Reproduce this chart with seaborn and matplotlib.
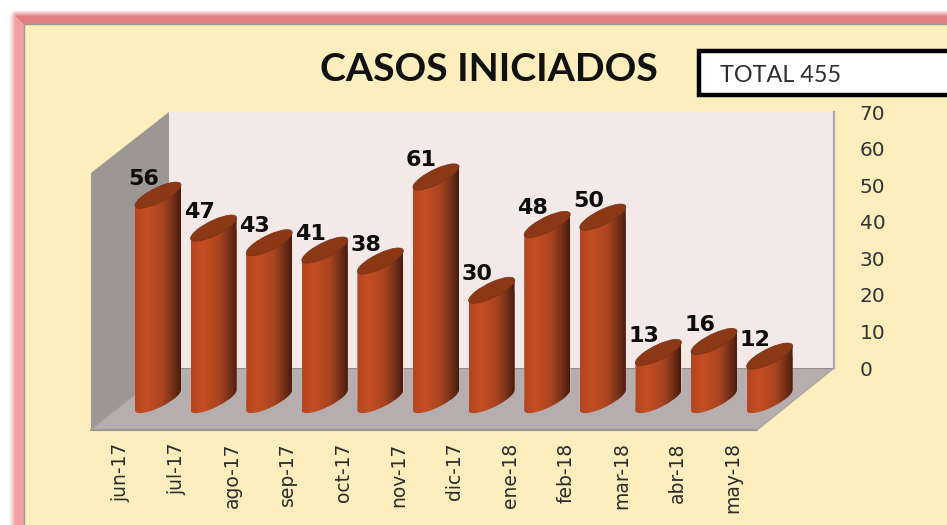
import numpy as np
import pandas as pd
import seaborn as sns
import matplotlib
matplotlib.use("Agg")
import matplotlib.pyplot as plt
from matplotlib.patches import Polygon, Ellipse, Rectangle
from matplotlib.path import Path
from matplotlib.transforms import Affine2D, IdentityTransform, ScaledTranslation
from matplotlib.colors import LinearSegmentedColormap, to_rgb

months = ["jun-17", "jul-17", "ago-17", "sep-17", "oct-17", "nov-17",
          "dic-17", "ene-18", "feb-18", "mar-18", "abr-18", "may-18"]
casos = [56, 47, 43, 41, 38, 61, 30, 48, 50, 13, 16, 12]
wall_ticks = [0, 10, 20, 30, 40, 50, 60, 70]
title_text = "CASOS INICIADOS"
total_text = "TOTAL 455"

W, H = 947, 525
sns.set_theme(style="white")
plt.rcParams["font.family"] = ["DejaVu Sans"]
fig = plt.figure(figsize=(W / 100, H / 100), dpi=100, facecolor="white")


def rect(x0, y_top, x1, y_bot):
    return [x0 / W, 1 - y_bot / H, (x1 - x0) / W, (y_bot - y_top) / H]


# ---- frame, panel and 3D room, in a full-figure pixel axes
bg = fig.add_axes([0, 0, 1, 1], zorder=0)
bg.set_xlim(0, W)
bg.set_ylim(H, 0)
bg.axis("off")

# soft pink glow around the panel
yy, xx = np.mgrid[0:H, 0:W] + 0.5
left_col = np.array(to_rgb("#f1a1a6"))
top_col = np.array(to_rgb("#e27f82"))
white = np.ones(3)
ex, ey = 9.0, 10.0   # outer edges of the glow
corner = 8.0
dx = np.clip(ex + corner - xx, 0, None)
dy = np.clip(ey + corner - yy, 0, None)
dist = corner - np.hypot(dx, dy)            # >0 inside the rounded frame
fade_left = np.clip(dist / 6.5, 0, 1)[..., None]
is_top = ((yy - ey) < (xx - ex))[..., None]
col = np.where(is_top, top_col, left_col)
img = white + (col - white) * fade_left
bg.imshow(img, extent=(0, W, H, 0), aspect="auto", interpolation="nearest", zorder=0)
bg.set_xlim(0, W)
bg.set_ylim(H, 0)

bg.add_patch(Rectangle((24, 24), W, H, fc="#fdeebd", ec="#9a9a92", lw=1, zorder=1))

bg.add_patch(Polygon([(91, 173), (169, 112), (169, 368), (91, 430)], fc="#9c9694", ec="none", zorder=2))
bg.add_patch(Polygon([(91, 430), (169, 368), (834, 368), (757, 430)], fc="#b6aeae", ec="none", zorder=2))
bg.plot([91, 757], [430, 430], color="#9a9690", lw=1.6, zorder=3)
bg.plot([91, 169], [430, 368], color="#a8a4a2", lw=0.8, zorder=3)
bg.plot([169, 834], [368, 368], color="#989090", lw=1.0, zorder=3)
bg.plot([757, 834], [430, 368], color="#a8a4a2", lw=1.0, zorder=3)

bg.add_patch(Rectangle((699, 51), W, 44, fc="white", ec="black", lw=3.2, zorder=3))
bg.text(720, 76, total_text, family="Lato", fontsize=16.8, color="#2e2e2e", va="center", ha="left", zorder=4)
bg.text(488.5, 69.5, title_text, family="Lato", fontweight="bold", fontsize=28.3, color="#111111",
        va="center", ha="center", zorder=4)

# ---- back wall carries the value scale
wall = fig.add_axes(rect(169, 112, 834, 368), zorder=1, facecolor="#f3e9e9")
wall.set_xlim(0, 1)
wall.set_ylim(wall_ticks[0], wall_ticks[-1])
wall.set_xticks([])
wall.yaxis.tick_right()
wall.set_yticks(wall_ticks)
wall.tick_params(axis="y", length=0, pad=18.5, labelsize=14.5, labelcolor="#333333")
for s in ["top", "left", "bottom"]:
    wall.spines[s].set_visible(False)
wall.spines["right"].set_color("#a9a9a9")
wall.spines["right"].set_linewidth(1.6)

# ---- bars
px_per_unit = (368 - 112) / 70
pitch = 55.6
x_first = 158
base_y = 400
pad_below = 14
ax = fig.add_axes(rect(x_first - pitch / 2, base_y - 70 * px_per_unit,
                       x_first + 11.5 * pitch, base_y + pad_below), zorder=2)
ax.patch.set_alpha(0)
df = pd.DataFrame({"mes": months, "casos": casos})
sns.barplot(data=df, x="mes", y="casos", order=months, color="#b5461f", width=46 / pitch,
            saturation=1, ax=ax, errorbar=None)
ax.set_xlim(-0.5, 11.5)
ax.set_ylim(-pad_below / px_per_unit, 70)
ax.set_xlabel("")
ax.set_ylabel("")
ax.set_yticks([])
for s in ax.spines.values():
    s.set_visible(False)
ax.tick_params(axis="x", length=0, pad=20.5, labelsize=13.5, labelcolor="#2b2b2b")
shift = ScaledTranslation(-37 / 100, 0, fig.dpi_scale_trans)
for lab in ax.get_xticklabels():
    lab.set_rotation(90)
    lab.set_va("top")
    lab.set_ha("center")
    lab.set_transform(lab.get_transform() + shift)

cyl = LinearSegmentedColormap.from_list(
    "cyl", [(0, "#b4451f"), (0.25, "#c44e23"), (0.6, "#aa4420"), (0.82, "#76301a"), (1, "#461c0c")])
grad = np.linspace(0, 1, 128).reshape(1, -1)

# cap: a sheared circle, so its highest point sits towards the right edge
hw, s_, h_ = 23.0, 10.2, 8.2


def cap_pts(t):
    return np.c_[hw * np.cos(t), s_ * np.cos(t) + h_ * np.sin(t)]


arc = cap_pts(np.linspace(-np.pi, 0, 60))
cap_m = Affine2D(np.array([[hw, 0, 0], [s_, h_, 0], [0, 0, 1]], dtype=float))
fig.canvas.draw()
for bar, val in zip(ax.patches, casos):
    xc = bar.get_x() + bar.get_width() / 2
    top = ax.transData.transform((xc, val))
    base = ax.transData.transform((xc, 0))
    outline = np.vstack([base + arc, top + arc[-1], top + arc[0], base + arc[0]])
    clip = Path(outline, closed=True)
    bar.set_clip_path(clip, IdentityTransform())
    im = ax.imshow(grad, cmap=cyl, aspect="auto", zorder=3, interpolation="bilinear",
                   extent=(bar.get_x(), bar.get_x() + bar.get_width(), -pad_below / px_per_unit, val + 5))
    im.set_clip_path(clip, IdentityTransform())
    ax.add_patch(Ellipse((0, 0), 2, 2, fc="#8b3816", ec="#7a3114", lw=0.5,
                         transform=cap_m + Affine2D().translate(*top), zorder=4))
    ax.annotate(str(val), (xc, val), xytext=(-14.5 / 1.389, 16.5 / 1.389), textcoords="offset points",
                ha="center", va="center", fontweight="bold", fontsize=16, color="#0c0c0c",
                zorder=6, annotation_clip=False)
ax.set_xlim(-0.5, 11.5)
ax.set_ylim(-pad_below / px_per_unit, 70)

fig.savefig("out.png", dpi=100)
